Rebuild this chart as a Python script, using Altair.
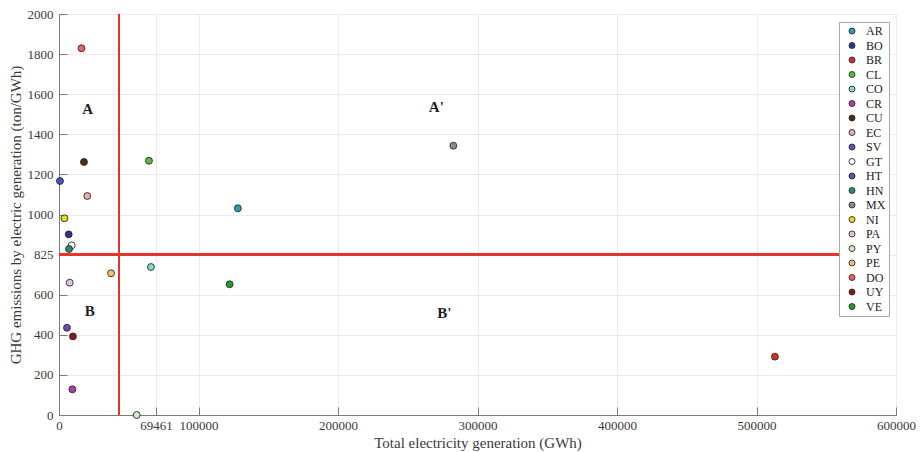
import altair as alt
import pandas as pd

# ---- data ----
COUNTRIES = ["AR", "BO", "BR", "CL", "CO", "CR", "CU", "EC", "SV", "GT",
             "HT", "HN", "MX", "NI", "PA", "PY", "PE", "DO", "UY", "VE"]
GENERATION = [128200, 6950, 513200, 64500, 65900, 9600, 17900, 20300, 5700, 9100,
              700, 7200, 282700, 3900, 7700, 55700, 37300, 16100, 10000, 122300]
EMISSIONS = [1031, 901, 291, 1268, 738, 128, 1262, 1092, 435, 846,
             1167, 828, 1343, 981, 660, 0, 707, 1829, 392, 652]
COLORS = ["#1fa3a6", "#2a3690", "#e02a1c", "#5abd3a", "#86d8d4", "#b03cb4",
          "#4a2e14", "#f2a9aa", "#6a4db2", "#ffffff", "#4556b6", "#2a8a76",
          "#8a8a8a", "#e6dc1e", "#e8bce8", "#c8ecc6", "#f6be6c", "#f0605e",
          "#861818", "#1e9e22"]

X_TICKS = [0, 69461, 100000, 200000, 300000, 400000, 500000, 600000]
Y_TICKS = [0, 200, 400, 600, 800, 1000, 1200, 1400, 1600, 1800, 2000]
Y_TICK_LABELS = ["0", "200", "400", "600", "825", "1000", "1200", "1400", "1600", "1800", "2000"]

VLINE_X = 43000
HLINE_Y = 800
HLINE_X_END = 560000

QUAD_LABELS = ["A", "A'", "B", "B'"]
QUAD_X = [20500, 270500, 22000, 276300]
QUAD_Y = [1526, 1536, 519, 509]

W, H = 837, 401
FONT = "Liberation Serif"
AXIS_GRAY = "#7a7a7a"
TEXT_GRAY = "#3a3a3a"
RED = "#e6342a"

pts = pd.DataFrame({"country": COUNTRIES, "gen": GENERATION, "ghg": EMISSIONS})
quads = pd.DataFrame({"lab": QUAD_LABELS, "gen": QUAD_X, "ghg": QUAD_Y})

xscale = alt.Scale(domain=[0, 600000], nice=False, zero=False)
yscale = alt.Scale(domain=[0, 2000], nice=False, zero=False)

label_expr = " : ".join(
    [f"datum.value == {v} ? '{l}'" for v, l in zip(Y_TICKS, Y_TICK_LABELS)] + ["datum.label"]
)

points = alt.Chart(pts).mark_circle(
    size=48, opacity=1, stroke="#2b2b2b", strokeWidth=0.9
).encode(
    x=alt.X("gen:Q", scale=xscale,
            axis=alt.Axis(values=X_TICKS, format="d", ticks=False, grid=True,
                          gridColor="#ebebeb", domainColor=AXIS_GRAY,
                          labelColor=TEXT_GRAY, labelFont=FONT, labelFontSize=13,
                          labelPadding=4, title="Total electricity generation (GWh)",
                          titleFont=FONT, titleFontSize=15, titleFontWeight="normal",
                          titleColor=TEXT_GRAY, titlePadding=3, labelFlush=False)),
    y=alt.Y("ghg:Q", scale=yscale,
            axis=alt.Axis(values=Y_TICKS, labelExpr=label_expr, ticks=False, grid=True,
                          gridColor="#ebebeb", domainColor=AXIS_GRAY,
                          labelColor=TEXT_GRAY, labelFont=FONT, labelFontSize=13,
                          labelPadding=6,
                          title="GHG emissions by electric generation (ton/GWh)",
                          titleFont=FONT, titleFontSize=15, titleFontWeight="normal",
                          titleColor=TEXT_GRAY, titlePadding=4)),
    color=alt.Color("country:N",
                    scale=alt.Scale(domain=COUNTRIES, range=COLORS),
                    sort=COUNTRIES,
                    legend=alt.Legend(title=None, orient="none", legendX=780, legendY=8,
                                      direction="vertical",
                                      fillColor="white", strokeColor="#a8a8a8",
                                      padding=3, symbolType="circle", symbolSize=36,
                                      symbolStrokeColor="#2b2b2b", symbolStrokeWidth=0.9,
                                      symbolOffset=4, labelOffset=8,
                                      labelFont=FONT, labelFontSize=12,
                                      labelColor="#222222", rowPadding=2.5)),
)

vline = alt.Chart(pts).mark_rule(color=RED, strokeWidth=1.8).encode(
    x=alt.datum(VLINE_X, scale=xscale,
                axis=alt.Axis(orient="top", offset=-H, labels=False, domain=False,
                              grid=False, ticks=True, tickSize=8, tickColor=AXIS_GRAY,
                              values=X_TICKS, title=None)),
    y=alt.datum(0, scale=yscale,
                axis=alt.Axis(orient="right", offset=-W, labels=False, domain=False,
                              grid=False, ticks=True, tickSize=8, tickColor=AXIS_GRAY,
                              values=Y_TICKS, title=None)),
    y2=alt.datum(2000),
)

hline = alt.Chart(pts).mark_rule(color=RED, strokeWidth=1.8).encode(
    x=alt.datum(0, scale=xscale, axis=None),
    x2=alt.datum(HLINE_X_END),
    y=alt.datum(HLINE_Y, scale=yscale, axis=None),
)

qtext = alt.Chart(quads).mark_text(
    font=FONT, fontSize=15, fontWeight="bold", color="#1e1e1e",
    align="center", baseline="middle"
).encode(
    x=alt.X("gen:Q", scale=xscale, axis=None),
    y=alt.Y("ghg:Q", scale=yscale, axis=None),
    text="lab:N",
)

chart = alt.layer(qtext, vline, hline, points).resolve_axis(
    x="independent", y="independent"
).properties(
    width=W, height=H,
    autosize=alt.AutoSizeParams(type="none"),
    padding={"left": 51, "top": 6, "right": 20, "bottom": 37},
).configure_view(stroke=None)

chart.save("out.html", embed_options={"renderer": "svg", "actions": False})
